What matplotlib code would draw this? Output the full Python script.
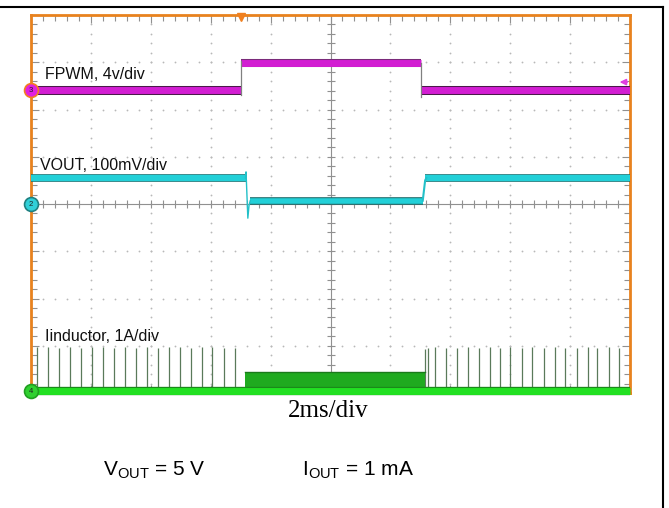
import numpy as np
import matplotlib
matplotlib.use("Agg")
import matplotlib.pyplot as plt
import matplotlib.patheffects as pe

plt.rcParams["font.family"] = ["Liberation Sans", "DejaVu Sans"]

W, H = 669, 508

# time in divisions (2 ms/div), level in divisions from bottom of screen
FPWM_EDGES = [3.51, 6.51]
FPWM_LOW, FPWM_HIGH = 6.41, 6.98

VOUT_EDGES = [3.62, 6.54]
VOUT_HIGH, VOUT_LOW = 4.55, 4.07
VOUT_OVERSHOOT, VOUT_UNDERSHOOT = 4.68, 3.70

IL_BASE = 0.04
IL_PLATEAU = (3.57, 6.58, 0.44)
IL_SPIKE_T = [0.10, 0.29, 0.47, 0.65, 0.83, 1.02, 1.21, 1.39, 1.57, 1.75,
              1.94, 2.12, 2.30, 2.48, 2.67, 2.85, 3.03, 3.22, 3.40,
              6.58, 6.62, 6.75, 6.92, 7.12, 7.30, 7.48, 7.67, 7.83, 8.00,
              8.19, 8.37, 8.56, 8.74, 8.92, 9.11, 9.30, 9.45, 9.65, 9.82]
IL_SPIKE_V = [0.97, 0.97, 0.96, 0.97, 0.96, 0.97, 0.97, 0.96, 0.97, 0.96,
              0.97, 0.96, 0.97, 0.97, 0.96, 0.97, 0.97, 0.96, 0.96,
              0.93, 0.95, 0.97, 0.96, 0.96, 0.97, 0.96, 0.97, 0.96, 0.97,
              0.96, 0.97, 0.96, 0.97, 0.96, 0.96, 0.97, 0.96, 0.97, 0.96]

fig = plt.figure(figsize=(W / 100, H / 100), dpi=100)
ax = fig.add_axes([31 / W, (H - 393) / H, 599 / W, 378 / H])
ax.set_xlim(0, 10)
ax.set_ylim(0, 8)

# graticule dots
for gx in range(1, 10):
    ax.plot([gx] * 41, np.linspace(0, 8, 41), ls="none", marker="o", ms=1.3,
            color="#b8b8b8", mec="none", zorder=1)
for gy in range(1, 8):
    ax.plot(np.linspace(0, 10, 51), [gy] * 51, ls="none", marker="o", ms=1.3,
            color="#b8b8b8", mec="none", zorder=1)

# centre cross with ticks
ax.axvline(5, color="#909090", lw=0.8, zorder=1)
ax.axhline(4, color="#909090", lw=0.8, zorder=1)
ax.plot([5] * 41, np.linspace(0, 8, 41), ls="none", marker="_", ms=6,
        color="#909090", mew=0.8, zorder=1)
ax.plot(np.linspace(0, 10, 51), [4] * 51, ls="none", marker="|", ms=6,
        color="#909090", mew=0.8, zorder=1)

# border ticks
ax.set_xticks(np.arange(0, 10.01, 1))
ax.set_yticks(np.arange(0, 8.01, 1))
ax.set_xticks(np.arange(0, 10.01, 0.2), minor=True)
ax.set_yticks(np.arange(0, 8.01, 0.2), minor=True)
ax.tick_params(which="both", direction="in", top=True, right=True,
               labelbottom=False, labelleft=False, color="#909090", width=0.8)
ax.tick_params(which="major", length=6)
ax.tick_params(which="minor", length=4)
for s in ax.spines.values():
    s.set_color("#e8821e")
    s.set_linewidth(2)

# FPWM (ch3)
r, f = FPWM_EDGES
low_fx = [pe.Stroke(linewidth=6.5, foreground="#4a1a4a"), pe.Normal()]
ax.plot([0, r], [FPWM_LOW] * 2, color="#d21ed2", lw=5, solid_capstyle="butt",
        path_effects=low_fx, zorder=4)
ax.plot([f, 10], [FPWM_LOW] * 2, color="#d21ed2", lw=5, solid_capstyle="butt",
        path_effects=low_fx, zorder=4)
ax.plot([r, f], [FPWM_HIGH] * 2, color="#d21ed2", lw=5, solid_capstyle="butt",
        path_effects=[pe.Stroke(linewidth=5.8, foreground="#7a2a7a"), pe.Normal()], zorder=4)
ax.plot([r, r], [FPWM_LOW - 0.1, FPWM_HIGH + 0.05], color="#808080", lw=0.9, zorder=5)
ax.plot([f, f], [FPWM_LOW - 0.15, FPWM_HIGH], color="#808080", lw=0.9, zorder=5)

# VOUT (ch2)
d, u = VOUT_EDGES
band_fx = [pe.Stroke(linewidth=5.5, foreground="#1a6a6a"), pe.Normal()]
ax.plot([0, d - 0.03], [VOUT_HIGH] * 2, color="#22d0d8", lw=4.5, solid_capstyle="butt",
        path_effects=band_fx, zorder=4)
ax.plot([d + 0.03, u], [VOUT_LOW] * 2, color="#22d0d8", lw=4.0, solid_capstyle="butt",
        path_effects=band_fx, zorder=4)
ax.plot([u + 0.04, 10], [VOUT_HIGH] * 2, color="#22d0d8", lw=4.5, solid_capstyle="butt",
        path_effects=band_fx, zorder=4)
ax.plot([d - 0.04, d - 0.03, d, d + 0.02, d + 0.04],
        [VOUT_HIGH, VOUT_OVERSHOOT, VOUT_UNDERSHOOT, VOUT_LOW - 0.1, VOUT_LOW],
        color="#22c0c8", lw=1.0, zorder=5)
ax.plot([u, u + 0.04, u + 0.06], [VOUT_LOW, VOUT_HIGH - 0.05, VOUT_HIGH],
        color="#22c0c8", lw=1.5, zorder=5)

# Inductor current (ch4)
ax.vlines(IL_SPIKE_T, IL_BASE, IL_SPIKE_V, color="#5a7a5a", lw=0.9, zorder=3)
t0, t1, top = IL_PLATEAU
ax.fill_between([t0, t1], IL_BASE, top, color="#1faa1f", lw=0, zorder=3)
ax.plot([t0, t1], [top, top], color="#1a7a1a", lw=1.0, zorder=3)
ax.plot([0, 10], [IL_BASE, IL_BASE], color="#22e022", lw=5, solid_capstyle="butt",
        path_effects=[pe.Stroke(linewidth=6, foreground="#1a8a1a"), pe.Normal()],
        zorder=4, clip_on=False)

# channel markers
for yv, fc, ec, lab in [(FPWM_LOW, "#e020e0", "#f08020", "3"), (4.0, "#30d0d8", "#208080", "2"),
                        (IL_BASE, "#30d030", "#20a020", "4")]:
    ax.plot(0, yv, marker="o", ms=10, mfc=fc, mec=ec, mew=1.2, clip_on=False, zorder=6)
    ax.text(0, yv, lab, fontsize=5.5, ha="center", va="center", color="#202020",
            clip_on=False, zorder=7)
ax.plot(FPWM_EDGES[0], 7.96, marker="v", ms=6, color="#f08020", clip_on=False, zorder=6)
ax.annotate("", xy=(9.78, 6.58), xytext=(10.0, 6.58),
            arrowprops=dict(arrowstyle="-|>", color="#e040e0", lw=1.2, mutation_scale=9), zorder=6)

# trace labels
ax.text(0.24, 6.64, "FPWM, 4v/div", fontsize=11.5, color="#101010", zorder=8)
ax.text(0.15, 4.73, "VOUT, 100mV/div", fontsize=11.5, color="#101010", zorder=8)
ax.text(0.24, 1.10, "Iinductor, 1A/div", fontsize=11.5, color="#101010", zorder=8)

# page frame
fig.add_artist(plt.Line2D([0, 663 / W], [(H - 7) / H] * 2, color="black", lw=1.5,
                          transform=fig.transFigure))
fig.add_artist(plt.Line2D([663 / W] * 2, [(H - 7) / H, 0], color="black", lw=1.5,
                          transform=fig.transFigure))

fig.text(328 / W, (H - 411) / H, "2ms/div", fontsize=18, family="Liberation Serif",
         ha="center", va="center")
fig.text(103 / W, (H - 470) / H, r"V$_\mathregular{OUT}$ = 5 V", fontsize=15,
         ha="left", va="center")
fig.text(302 / W, (H - 470) / H, r"I$_\mathregular{OUT}$ = 1 mA", fontsize=15,
         ha="left", va="center")

fig.savefig("out.png", dpi=100)
